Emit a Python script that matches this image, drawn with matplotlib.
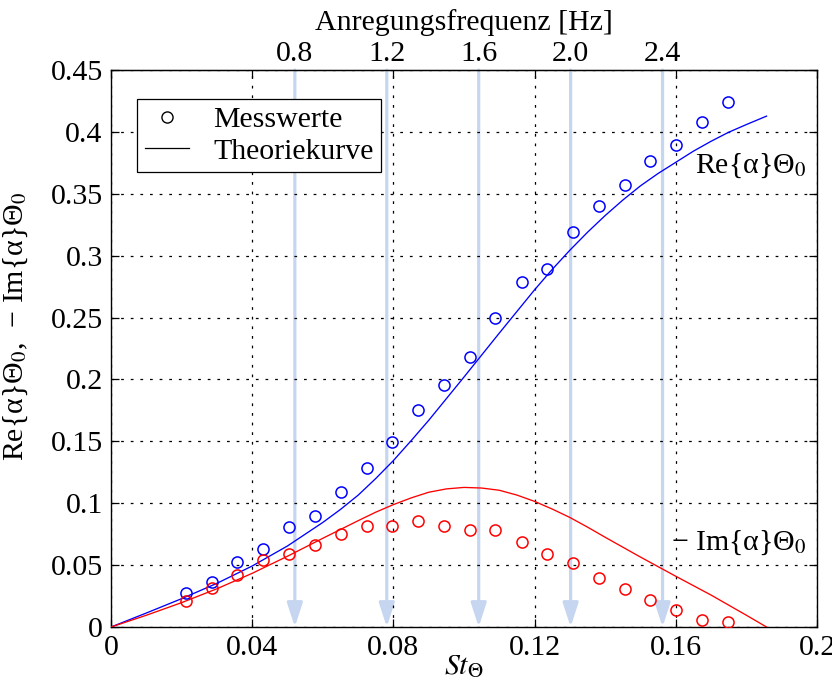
import matplotlib
matplotlib.use("Agg")
import matplotlib.pyplot as plt
from matplotlib.lines import Line2D

plt.rcParams['font.family'] = ['Liberation Serif', 'DejaVu Serif']
plt.rcParams['mathtext.fontset'] = 'stix'
plt.rcParams['font.size'] = 21.5

# measured values (Strouhal number vs. real / negative imaginary part)
st_mess = [0.0212, 0.0285, 0.0358, 0.0431, 0.0505, 0.0578, 0.0651, 0.0724,
           0.0797, 0.0870, 0.0943, 0.1016, 0.1089, 0.1163, 0.1236, 0.1309,
           0.1382, 0.1455, 0.1528, 0.1601, 0.1674, 0.1747]
re_mess = [0.0278, 0.0367, 0.0523, 0.0631, 0.0807, 0.0900, 0.1090, 0.1284,
           0.1497, 0.1750, 0.1958, 0.2182, 0.2500, 0.2789, 0.2896, 0.3190,
           0.3400, 0.3568, 0.3765, 0.3894, 0.4078, 0.4239]
im_mess = [0.0210, 0.0318, 0.0423, 0.0542, 0.0590, 0.0663, 0.0750, 0.0817,
           0.0817, 0.0860, 0.0817, 0.0785, 0.0785, 0.0690, 0.0593, 0.0518,
           0.0399, 0.0307, 0.0218, 0.0138, 0.0057, 0.0043]

# theory curves
st_re = [0.0, 0.01, 0.02, 0.03, 0.04, 0.05, 0.06, 0.065, 0.07, 0.075, 0.08,
         0.085, 0.09, 0.10, 0.11, 0.12, 0.125, 0.13, 0.135, 0.14, 0.145,
         0.15, 0.155, 0.16, 0.165, 0.17, 0.175, 0.18, 0.1857]
re_theo = [0.0, 0.0113, 0.0229, 0.0353, 0.0493, 0.0655, 0.0845, 0.0950,
           0.1065, 0.1200, 0.1345, 0.1505, 0.1670, 0.2020, 0.2375, 0.2725,
           0.2890, 0.3045, 0.3190, 0.3325, 0.3450, 0.3565, 0.3665, 0.3755,
           0.3845, 0.3925, 0.3998, 0.4060, 0.4128]
st_im = [0.0, 0.01, 0.02, 0.03, 0.04, 0.05, 0.06, 0.07, 0.075, 0.08, 0.085,
         0.09, 0.095, 0.10, 0.105, 0.11, 0.115, 0.12, 0.125, 0.13, 0.135,
         0.14, 0.15, 0.16, 0.17, 0.18, 0.1857]
im_theo = [0.0, 0.0095, 0.0197, 0.0309, 0.0434, 0.0572, 0.0717, 0.0859,
           0.0928, 0.0989, 0.1043, 0.1089, 0.1116, 0.1128, 0.1123, 0.1105,
           0.1066, 0.1015, 0.0953, 0.0885, 0.0807, 0.0725, 0.0565, 0.0410,
           0.0258, 0.0095, 0.0]

# excitation frequencies marked with arrows, St = k * f
freq_marks = [0.8, 1.2, 1.6, 2.0, 2.4]
k_st = 0.0651

x_ticks = [0, 0.04, 0.08, 0.12, 0.16, 0.2]
y_ticks = [0, 0.05, 0.1, 0.15, 0.2, 0.25, 0.3, 0.35, 0.4, 0.45]

fig = plt.figure(figsize=(8.32, 6.87), dpi=100)
ax = fig.add_axes([0.1334, 0.0873, 0.8486, 0.8107])

arrow_col = '#c6d6f0'
for f in freq_marks:
    ax.annotate('', xy=(k_st * f, 0), xytext=(k_st * f, 0.45),
                arrowprops=dict(arrowstyle='-|>,head_length=1.45,head_width=0.47',
                                mutation_scale=10, color=arrow_col, lw=2.3,
                                shrinkA=0, shrinkB=0),
                zorder=1)

ax.plot(st_re, re_theo, color='#0000ff', lw=0.95, zorder=3)
ax.plot(st_im, im_theo, color='#ff0000', lw=0.95, zorder=3)
ax.plot(st_mess, re_mess, ls='none', marker='o', ms=8, mfc='none',
        mec='#0000ff', mew=1.1, zorder=4)
ax.plot(st_mess, im_mess, ls='none', marker='o', ms=8, mfc='none',
        mec='#ff0000', mew=1.1, zorder=4)

ax.set_xlim(0, 0.2)
ax.set_ylim(0, 0.45)
ax.set_xticks(x_ticks)
ax.set_yticks(y_ticks)
ax.set_xticklabels(['%g' % t for t in x_ticks])
ax.set_yticklabels(['%g' % t for t in y_ticks])
ax.tick_params(direction='in', length=6, width=0.9, top=True, right=True, pad=6)
ax.grid(True, color='k', ls=(0, (2.2, 5.5)), lw=0.9)
for s in ax.spines.values():
    s.set_linewidth(1.0)

ax.set_xlabel(r'$St_\Theta$', labelpad=-6)
ax.set_ylabel('Re{α}Θ$_0$,  − Im{α}Θ$_0$')
ax.yaxis.set_label_coords(-0.115, 0.54)

top = ax.secondary_xaxis('top', functions=(lambda s: s / k_st, lambda f: f * k_st))
top.set_xticks(freq_marks)
top.set_xticklabels(['%.1f' % f for f in freq_marks])
top.tick_params(length=0, pad=2)
top.set_xlabel('Anregungsfrequenz [Hz]', labelpad=8)

ax.text(0.197, 0.373, 'Re{α}Θ$_0$', ha='right', va='center')
ax.text(0.197, 0.068, '− Im{α}Θ$_0$', ha='right', va='center')

handles = [Line2D([], [], ls='none', marker='o', ms=8, mfc='none', mec='k', mew=1.0),
           Line2D([], [], color='k', lw=0.9)]
leg = ax.legend(handles, ['Messwerte', 'Theoriekurve'], loc='upper left',
                bbox_to_anchor=(0.037, 0.948), borderaxespad=0, fancybox=False,
                framealpha=1, edgecolor='k', handlelength=1.5, handletextpad=0.8,
                labelspacing=0.15, borderpad=0.25)
leg.get_frame().set_linewidth(0.9)

fig.savefig('out.png', dpi=100)
